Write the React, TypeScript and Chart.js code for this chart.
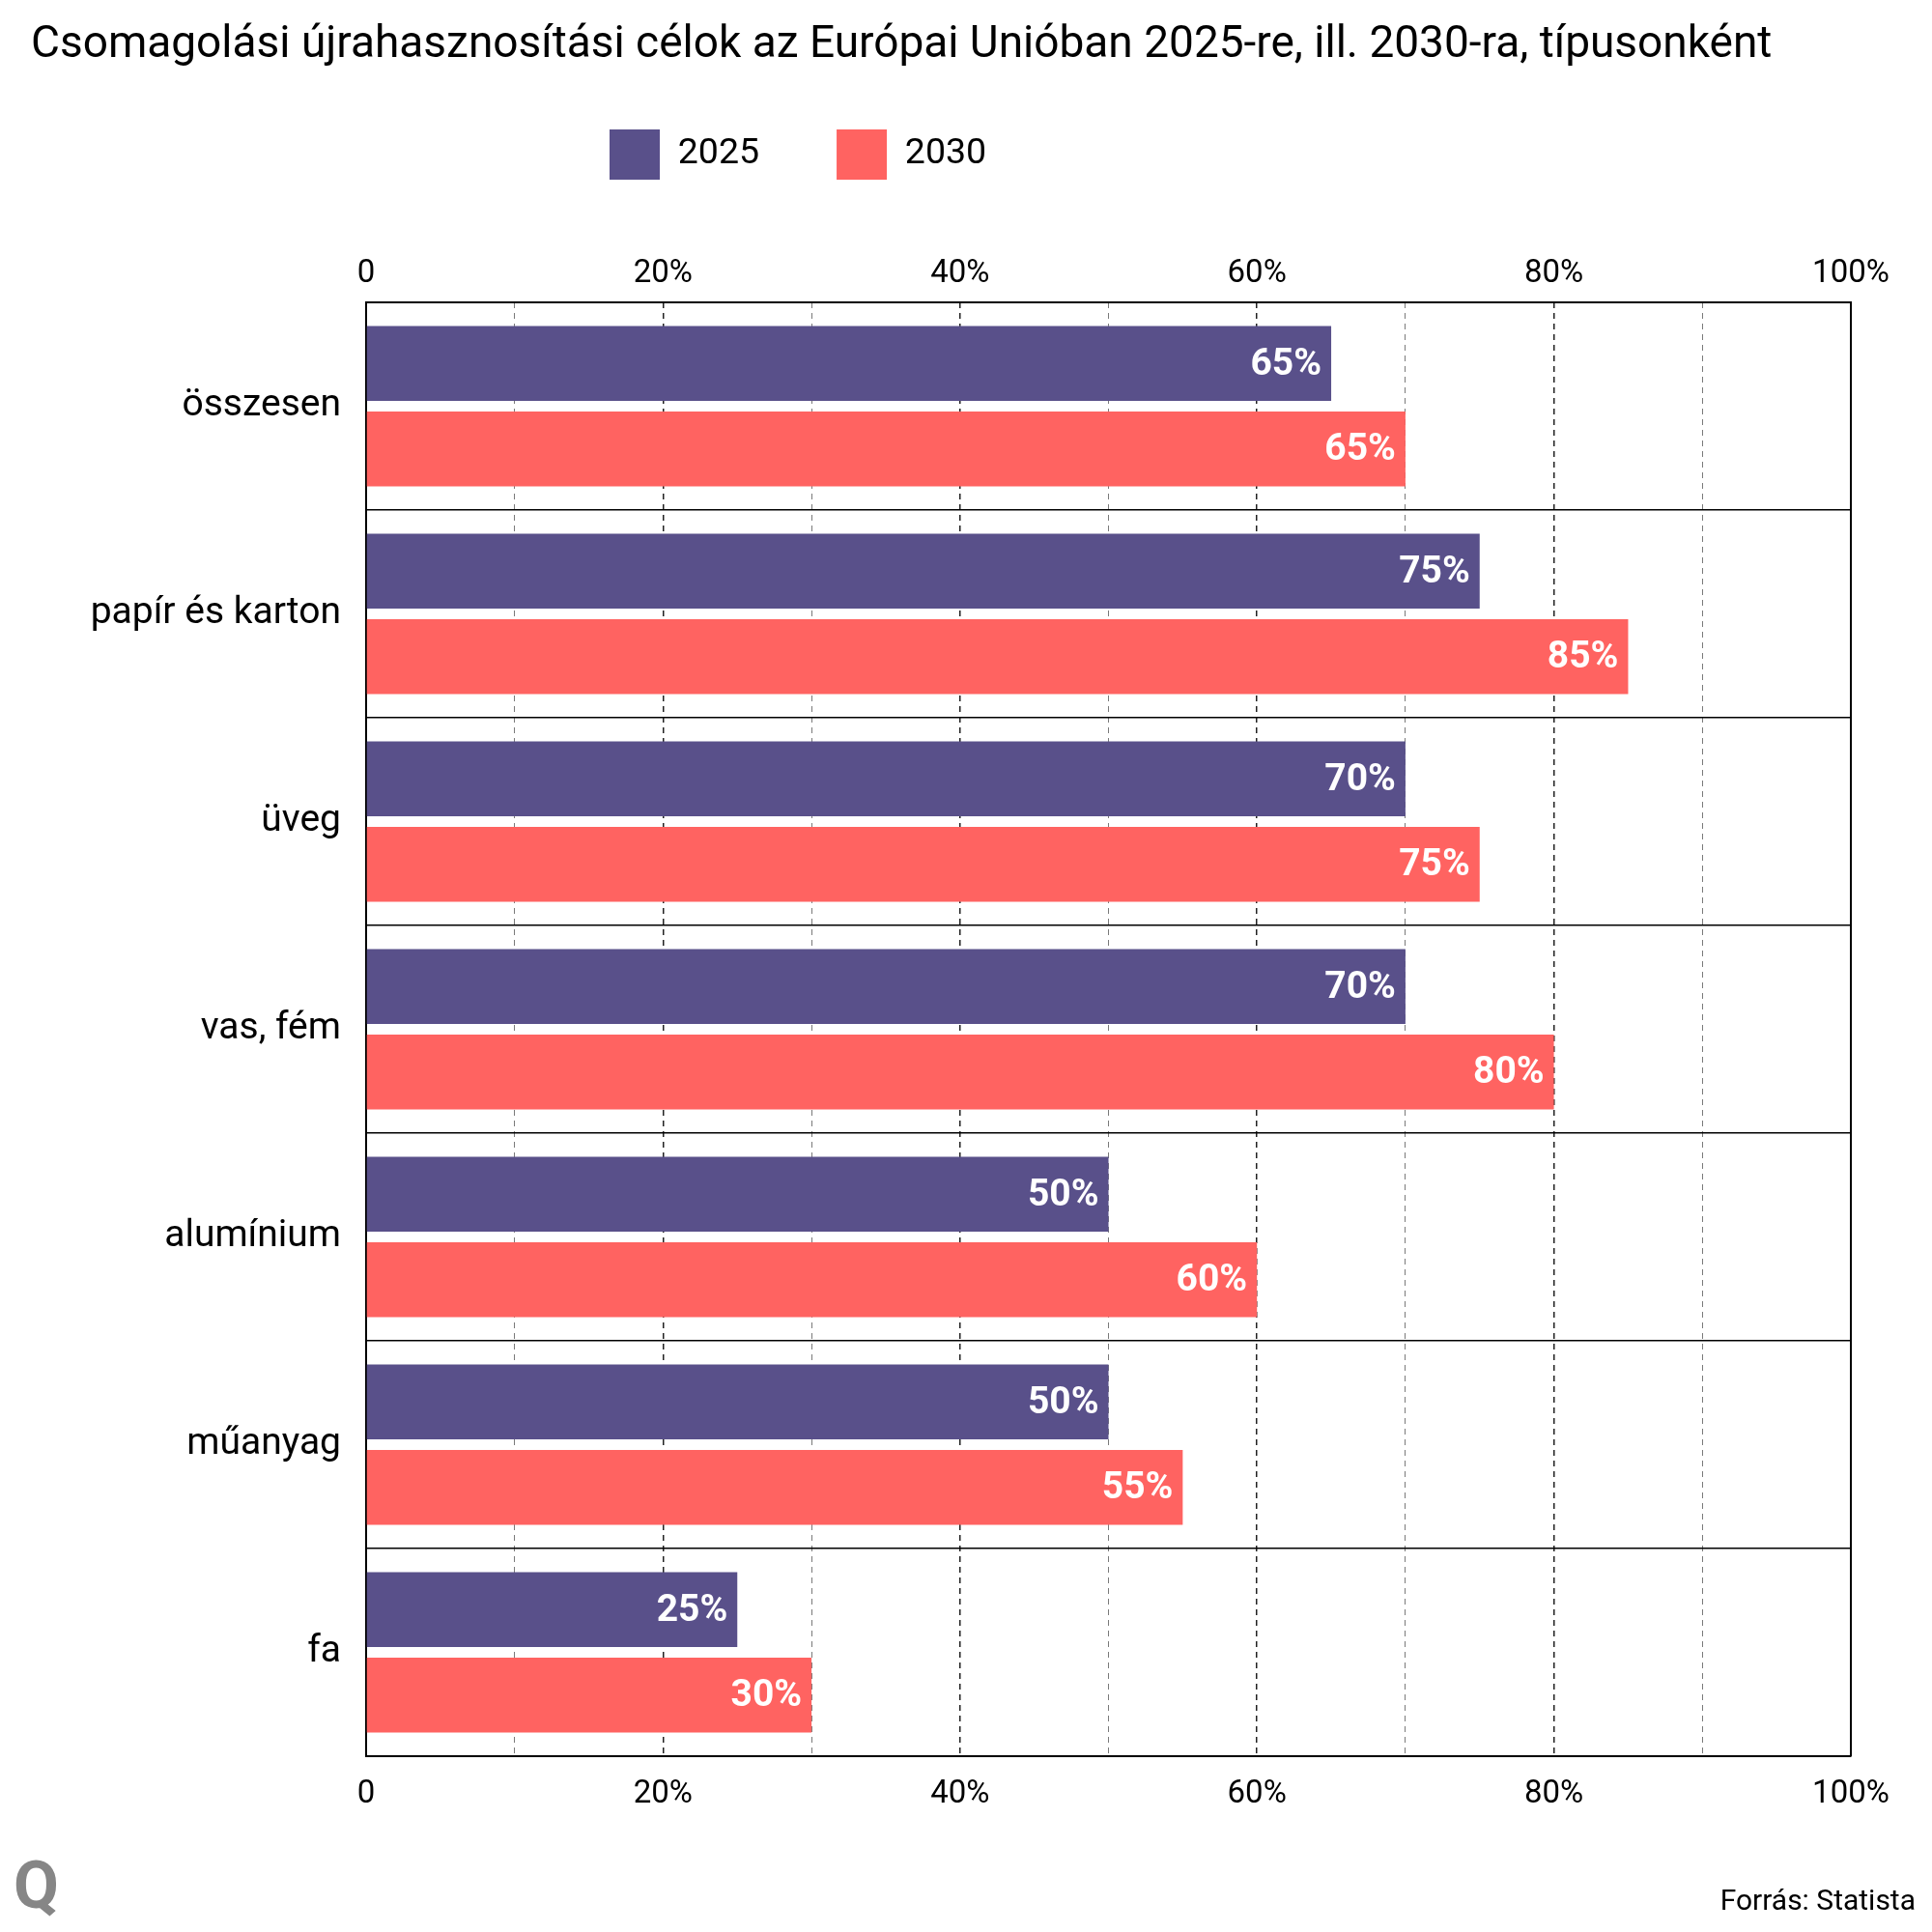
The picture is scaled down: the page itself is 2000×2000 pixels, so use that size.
import React, { useEffect, useRef } from "react";
import { Chart, registerables } from "chart.js";

Chart.register(...registerables);

const TITLE =
  "Csomagolási újrahasznosítási célok az Európai Unióban 2025-re, ill. 2030-ra, típusonként";
const SOURCE = "Forrás: Statista";
const LOGO = "Q";

const categories = [
  "összesen",
  "papír és karton",
  "üveg",
  "vas, fém",
  "alumínium",
  "műanyag",
  "fa",
];
const seriesNames = ["2025", "2030"];
const values2025 = [65, 75, 70, 70, 50, 50, 25];
const values2030 = [70, 85, 75, 80, 60, 55, 30];
const labels2025 = ["65%", "75%", "70%", "70%", "50%", "50%", "25%"];
const labels2030 = ["65%", "85%", "75%", "80%", "60%", "55%", "30%"];
const tickValues = [0, 20, 40, 60, 80, 100];
const tickLabels = ["0", "20%", "40%", "60%", "80%", "100%"];

const COLOR_2025 = "#59508a";
const COLOR_2030 = "#ff6361";
const FONT = "Roboto";

const PLOT_TOP = 313;
const PLOT_LEFT = 379;
const PAD_LEFT = 32;
const PAD_RIGHT = 84;
const PAD_BOTTOM = 112;
const X_BOTTOM_H = 70;

function tickText(v: number): string {
  const i = tickValues.indexOf(v);
  return i >= 0 ? tickLabels[i] : "";
}

function gridColor(ctx: any): string {
  const v = ctx.tick ? ctx.tick.value : -1;
  if (v === 0 || v === 100) return "rgba(0,0,0,0)";
  return v % 20 === 0 ? "#222222" : "#7a7a7a";
}
function gridWidth(ctx: any): number {
  const v = ctx.tick ? ctx.tick.value : -1;
  return v % 20 === 0 ? 1.5 : 1;
}

const decorPlugin = {
  id: "decor",
  afterLayout(chart: any) {
    const lg = chart.legend;
    if (lg) {
      const pad = lg.options.labels.padding;
      const h = lg.height;
      lg.left = 631 - pad;
      lg.top = 134 - pad;
      lg.bottom = lg.top + h;
    }
  },
  afterDatasetsDraw(chart: any) {
    const ctx = chart.ctx;
    const lbls = [labels2025, labels2030];
    ctx.save();
    ctx.font = `bold 39px ${FONT}`;
    ctx.fillStyle = "#ffffff";
    ctx.textAlign = "right";
    ctx.textBaseline = "middle";
    chart.data.datasets.forEach((_: any, di: number) => {
      const meta = chart.getDatasetMeta(di);
      meta.data.forEach((bar: any, i: number) => {
        const p = bar.getProps(["x", "y"], true);
        ctx.fillText(lbls[di][i], p.x - 10, p.y + 2);
      });
    });
    ctx.restore();
  },
  afterDraw(chart: any) {
    const ctx = chart.ctx;
    const a = chart.chartArea;
    ctx.save();
    ctx.strokeStyle = "#000";
    ctx.lineWidth = 2;
    ctx.beginPath();
    ctx.moveTo(a.right, a.top);
    ctx.lineTo(a.right, a.bottom);
    ctx.stroke();

    ctx.fillStyle = "#868686";
    ctx.font = `bold 68px ${FONT}`;
    ctx.textAlign = "left";
    ctx.textBaseline = "alphabetic";
    ctx.fillText(LOGO, 14, 1975);

    ctx.fillStyle = "#000";
    ctx.font = `30px ${FONT}`;
    ctx.textAlign = "right";
    ctx.fillText(SOURCE, 1983, 1977);
    ctx.restore();
  },
};

export default function App() {
  const ref = useRef<HTMLCanvasElement | null>(null);

  useEffect(() => {
    if (!ref.current) return;
    Chart.defaults.font.family = FONT;
    const xTicks = {
      stepSize: 10,
      autoSkip: false,
      maxRotation: 0,
      color: "#000",
      font: { size: 33, family: FONT },
      callback: (v: any) => tickText(Number(v)),
    };
    const chart = new Chart(ref.current, {
      type: "bar",
      data: {
        labels: categories,
        datasets: [
          {
            label: seriesNames[0],
            data: values2025,
            backgroundColor: COLOR_2025,
            borderWidth: 0,
            xAxisID: "x",
            categoryPercentage: 0.823,
            barPercentage: 0.875,
          },
          {
            label: seriesNames[1],
            data: values2030,
            backgroundColor: COLOR_2030,
            borderWidth: 0,
            xAxisID: "x",
            categoryPercentage: 0.823,
            barPercentage: 0.875,
          },
        ],
      },
      options: {
        indexAxis: "y",
        animation: false,
        responsive: false,
        devicePixelRatio: 1,
        events: [],
        layout: {
          padding: { top: 0, left: PAD_LEFT, right: PAD_RIGHT, bottom: PAD_BOTTOM },
        },
        scales: {
          x: {
            type: "linear",
            position: "bottom",
            min: 0,
            max: 100,
            ticks: { ...xTicks, padding: 20 },
            grid: {
              display: true,
              drawTicks: false,
              color: gridColor,
              lineWidth: gridWidth,
            },
            border: { display: true, color: "#000", width: 2, dash: [6, 5] },
            afterFit: (s: any) => {
              s.height = X_BOTTOM_H;
            },
          },
          x2: {
            type: "linear",
            axis: "x",
            position: "top",
            min: 0,
            max: 100,
            ticks: { ...xTicks, padding: 9 },
            grid: { display: false, drawTicks: false },
            border: { display: true, color: "#000", width: 2 },
            afterFit: (s: any) => {
              const c = s.chart;
              const th = c.titleBlock ? c.titleBlock.height : 0;
              const lh = c.legend ? c.legend.height : 0;
              s.height = Math.max(10, PLOT_TOP - th - lh);
            },
          },
          y: {
            type: "category",
            position: "left",
            ticks: {
              color: "#000",
              font: { size: 39, family: FONT },
              padding: 26,
            },
            grid: {
              display: true,
              offset: true,
              drawTicks: false,
              color: "#000",
              lineWidth: 1.5,
            },
            border: { display: true, color: "#000", width: 2 },
            afterFit: (s: any) => {
              s.width = PLOT_LEFT - PAD_LEFT;
            },
          },
        },
        plugins: {
          tooltip: { enabled: false },
          title: {
            display: true,
            text: TITLE,
            align: "start",
            color: "#000",
            font: { size: 46, family: FONT, weight: "normal" },
            padding: { top: 20, bottom: 0 },
          },
          legend: {
            display: true,
            position: "top",
            align: "start",
            labels: {
              color: "#000",
              font: { size: 37.5, family: FONT },
              boxWidth: 52,
              boxHeight: 52,
              padding: 80,
            },
          },
        },
      },
      plugins: [decorPlugin],
    } as any);
    return () => chart.destroy();
  }, []);

  return (
    <div
      style={{
        position: "absolute",
        left: 0,
        top: 0,
        width: 2000,
        height: 2000,
        background: "#fff",
      }}
    >
      <canvas ref={ref} width={2000} height={2000} style={{ display: "block" }} />
    </div>
  );
}
